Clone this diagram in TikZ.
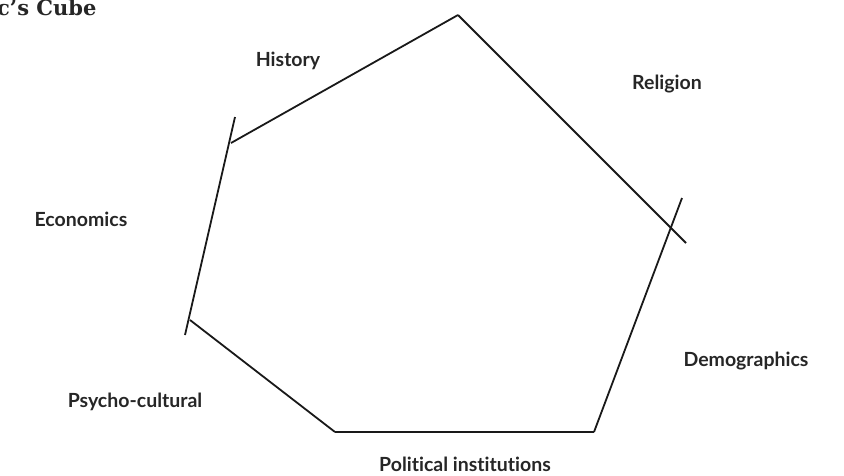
\documentclass[tikz,border=0pt]{standalone}
\usepackage{fontspec}
\setsansfont[Ligatures=NoCommon]{Lato}
\newfontfamily\titlefont{DejaVu Serif}
\usepackage{tikz}
\usetikzlibrary{positioning}

\begin{document}
\begin{tikzpicture}
  [
    x=1pt, y=-1pt,
    Side/.style={draw=black!90, line width=1.8pt},
    Factor/.style={font=\sffamily\bfseries\fontsize{19.5}{22}\selectfont, text=black!85, inner sep=0pt},
    Title/.style={font=\titlefont\bfseries\fontsize{21}{23}\selectfont, text=black!85, inner sep=0pt, anchor=base west}
  ]
  \useasboundingbox (0, 0) rectangle (844, 475);

  % Nodes
  \node[Title] (title) at(-3, 15) {c’s Cube};

  \node[Factor] (history) at(288, 61) {History};

  \node[Factor] (religion) at(667, 84) {Religion};

  \node[Factor] (economics) at(81, 219) {Economics};

  \node[Factor] (demographics) at(746, 361) {Demographics};

  \node[Factor] (psycho) at(135, 402) {Psycho-cultural};

  \node[Factor] (political) at(465, 464) {Political institutions};

  % Corners
  \coordinate (h1) at(231, 143);
  \coordinate (top) at(458, 15);
  \coordinate (r2) at(686, 243);
  \coordinate (d1) at(682, 198);
  \coordinate (br) at(594, 432);
  \coordinate (bl) at(335, 432);
  \coordinate (p2) at(190, 320);
  \coordinate (e1) at(235, 117);
  \coordinate (e2) at(185, 335);

  % Lines
  \draw[Side] (h1) -- (top);
  \draw[Side] (top) -- (r2);
  \draw[Side] (d1) -- (br);
  \draw[Side] (br) -- (bl);
  \draw[Side] (bl) -- (p2);
  \draw[Side] (e1) -- (e2);

\end{tikzpicture}
\end{document}
